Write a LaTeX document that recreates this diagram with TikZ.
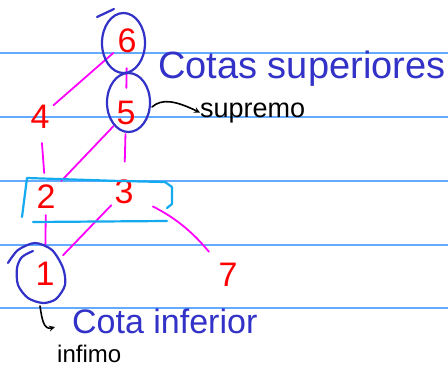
\documentclass[tikz,border=0pt]{standalone}
\usepackage{fontspec}
\setmainfont{Liberation Sans}
\definecolor{pageline}{RGB}{100,170,255}
\definecolor{inkblue}{RGB}{50,50,200}
\definecolor{inkcyan}{RGB}{20,170,240}
\definecolor{inkmagenta}{RGB}{255,0,255}
\definecolor{inkred}{RGB}{255,0,0}
\tikzset{
  num/.style={circle, inner sep=2pt, text=inkred, font=\fontsize{34}{34}\selectfont},
  edge/.style={inkmagenta, line width=1.8pt},
  loop/.style={inkblue, line width=2.2pt},
  boxline/.style={inkcyan, line width=2.2pt},
}
\begin{document}
\begin{tikzpicture}[x=1pt, y=-1pt, >=stealth, line cap=round, line join=round]
    \useasboundingbox (0,0) rectangle (448,368);
    \fill[white] (0,0) rectangle (448,368);

    % Renglones del cuaderno
    \foreach \y in {53,117,181,245,308}
        \draw[pageline, line width=1.4pt] (0,\y) -- (448,\y);

    % Elementos del orden
    \node[num] (n6) at (127,41) {6};
    \node[num] (n5) at (126,113) {5};
    \node[num] (n4) at (40,117) {4};
    \node[num] (n2) at (46,197) {2};
    \node[num] (n3) at (124,192) {3};
    \node[num] (n1) at (45,274) {1};
    \node[num] (n7) at (228,275) {7};

    % Diagrama de Hasse
    \draw[edge] (n4) -- (n6);
    \draw[edge, shorten <=9pt, shorten >=7pt] (n6) -- (n5);
    \draw[edge, shorten <=8pt, shorten >=6pt] (n4) -- (n2);
    \draw[edge, shorten <=4pt] (n2) -- (n5);
    \draw[edge, shorten <=12pt, shorten >=3pt] (n3) -- (n5);
    \draw[edge, shorten >=12pt] (n2) -- (n1);
    \draw[edge, shorten <=8pt] (n1) -- (n3);
    \draw[edge, shorten <=14pt, shorten >=12pt] (n3) to[bend left=12] (n7);

    % Cotas superiores y supremo
    \draw[loop] (123.5,43) ellipse (21.5pt and 30pt);
    \draw[loop] (97,17) -- (114,9);
    \draw[loop] (128.5,102.5) ellipse (21.5pt and 29.5pt);

    % Cota inferior (espiral alrededor del 1)
    \draw[loop] plot[smooth] coordinates {(8,263) (18,250) (35,243) (52,250) (63,268)
        (65,285) (56,299) (43,303) (28,298) (18,285) (17,268) (22,257) (33,251)};

    % Recuadro de 2 y 3
    \draw[boxline] (22,217) -- (27,178) -- (120,181) -- (165,182) -- (172,187)
        -- (172,204) -- (167,208);
    \draw[boxline] (33,222) -- (167,221);

    % Textos
    \node[anchor=base west, inner sep=0pt, text=inkblue, font=\fontsize{38}{40}\selectfont]
        (cotasup) at (158,78) {Cotas superiores};
    \node[anchor=base west, inner sep=0pt, font=\fontsize{27}{28}\selectfont]
        (supremo) at (200,117) {supremo};
    \node[anchor=base west, inner sep=0pt, text=inkblue, font=\fontsize{34}{36}\selectfont]
        (cotainf) at (72,333) {Cota inferior};
    \node[anchor=base west, inner sep=0pt, font=\fontsize{24}{24}\selectfont]
        (infimo) at (57,362) {infimo};

    % Flechas negras
    \coordinate (c5) at (152,107);
    \coordinate (c1) at (40,306);
    \coordinate (c1end) at (55,327);
    \draw[->, line width=1.6pt] (c5) .. controls (162,98) and (176,101) .. (supremo.west);
    \draw[->, line width=1.6pt] (c1) .. controls (42,320) and (44,330) .. (c1end);
\end{tikzpicture}
\end{document}
